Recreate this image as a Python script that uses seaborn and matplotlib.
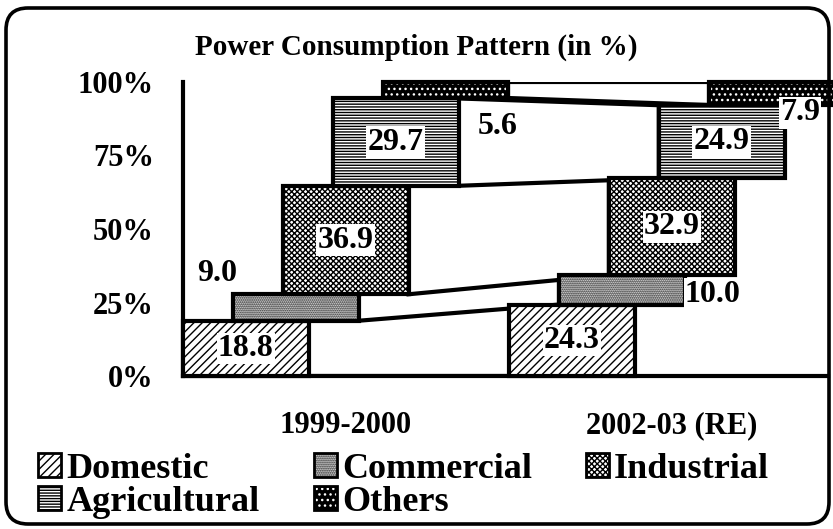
import numpy as np
import matplotlib
matplotlib.use("Agg")
import matplotlib.pyplot as plt
import seaborn as sns
from matplotlib.patches import Patch, FancyBboxPatch
from matplotlib.transforms import IdentityTransform

# data
years = ["1999-2000", "2002-03 (RE)"]
sectors = ["Domestic", "Commercial", "Industrial", "Agricultural", "Others"]
share_1999 = [18.8, 9.0, 36.9, 29.7, 5.6]
share_2002 = [24.3, 10.0, 32.9, 24.9, 7.9]
y_ticks = [0, 25, 50, 75, 100]
y_tick_labels = ["0%", "25%", "50%", "75%", "100%"]

sns.set_theme(style="white")
plt.rcParams["font.family"] = ["Liberation Serif", "DejaVu Serif"]
plt.rcParams["font.weight"] = "bold"
plt.rcParams["text.color"] = "black"
plt.rcParams["hatch.linewidth"] = 1.0

hatches = ["////", "........", "xxxxxx", "------", "..."]
width = 0.386   # bar width (group spacing = 1)
step = 0.153    # sideways shift of each series
lw = 3.0

fig = plt.figure(figsize=(8.33, 5.29), dpi=100)
ax = fig.add_axes([183 / 833, 153 / 529, 645 / 833, 294 / 529])

groups = [share_1999, share_2002]
for g, shares in enumerate(groups):
    tops = np.cumsum(shares)
    bottoms = tops - np.array(shares)
    for i, val in enumerate(shares):
        x = g + (i - 2) * step
        if sectors[i] == "Others":
            ax.bar(x, val, width, bottom=bottoms[i], facecolor="black",
                   edgecolor="white", hatch=hatches[i], linewidth=0,
                   zorder=3, clip_on=False)
            ax.bar(x, val, width, bottom=bottoms[i], fill=False,
                   edgecolor="black", linewidth=lw, zorder=4, clip_on=False)
        else:
            ax.bar(x, val, width, bottom=bottoms[i], facecolor="white",
                   edgecolor="black", hatch=hatches[i], linewidth=lw,
                   zorder=3, clip_on=False)

# connecting bands between the two years
t1 = np.cumsum(share_1999)
b1 = t1 - np.array(share_1999)
t2 = np.cumsum(share_2002)
b2 = t2 - np.array(share_2002)
for i in range(len(sectors)):
    x1 = (i - 2) * step + width / 2
    x2 = 1 + (i - 2) * step - width / 2
    ax.fill([x1, x1, x2, x2], [b1[i], t1[i], t2[i], b2[i]],
            facecolor="white", edgecolor="black", linewidth=lw, zorder=2)

# value labels
box = dict(facecolor="white", edgecolor="none", pad=1)
lab_kw = dict(fontsize=23, fontweight="bold", color="black",
              ha="center", va="center", zorder=6)
for g, shares in enumerate(groups):
    tops = np.cumsum(shares)
    bottoms = tops - np.array(shares)
    for i, val in enumerate(shares):
        x = g + (i - 2) * step
        mid = bottoms[i] + val / 2
        txt = f"{val:.1f}"
        if sectors[i] in ("Domestic", "Industrial", "Agricultural"):
            ax.text(x, mid, txt, bbox=box, **lab_kw)
        elif sectors[i] == "Commercial" and g == 0:
            ax.text(x - 0.24, tops[i] + 7, txt, **lab_kw)
        elif sectors[i] == "Commercial":
            ax.text(x + width / 2, mid - 1.5, txt, bbox=box,
                    **{**lab_kw, "ha": "left"})
        elif g == 0:
            ax.text(x + 0.16, bottoms[i] - 9.7, txt, **lab_kw)
        else:
            ax.text(x + 0.087, bottoms[i] - 2.6, txt, bbox=box, **lab_kw)

ax.set_xlim(-0.499, 1.479)
ax.set_ylim(0, 100)
ax.set_yticks(y_ticks, y_tick_labels)
ax.set_xticks([0, 1], years)
ax.tick_params(axis="y", direction="in", length=7, width=lw, pad=21,
               labelsize=22, colors="black")
ax.tick_params(axis="x", length=0, pad=25, labelsize=22, colors="black")
for lab in ax.get_xticklabels() + ax.get_yticklabels():
    lab.set_fontweight("bold")
ax.spines["top"].set_visible(False)
ax.spines["right"].set_visible(False)
for s in ("left", "bottom"):
    ax.spines[s].set_color("black")
    ax.spines[s].set_linewidth(lw)
ax.set_facecolor("none")

fig.text(0.5, 1 - 47 / 529, "Power Consumption Pattern (in %)",
         ha="center", va="center", fontsize=21, fontweight="bold", color="black")

# legend, column order gives rows Domestic/Commercial/Industrial, Agricultural/Others
def handle(i):
    if sectors[i] == "Others":
        return (Patch(facecolor="black", edgecolor="white", hatch=hatches[i], linewidth=0),
                Patch(fill=False, edgecolor="black", linewidth=2))
    return Patch(facecolor="white", edgecolor="black", hatch=hatches[i], linewidth=2)

order = [0, 3, 1, 4, 2]
leg = fig.legend([handle(i) for i in order], [sectors[i] for i in order],
                 ncol=3, loc="upper left", bbox_to_anchor=(38 / 833, 1 - 453 / 529),
                 frameon=False, prop={"weight": "bold", "size": 26},
                 handlelength=0.64, handleheight=0.64, handletextpad=0.14,
                 columnspacing=1.5, labelspacing=0.0, borderpad=0, borderaxespad=0)
for t in leg.get_texts():
    t.set_color("black")

# rounded outer frame
fig.add_artist(FancyBboxPatch((6, 5), 823, 516,
                              boxstyle="round,pad=0,rounding_size=22",
                              transform=IdentityTransform(), facecolor="none",
                              edgecolor="black", linewidth=2.6))

fig.savefig("out.png", dpi=100)
